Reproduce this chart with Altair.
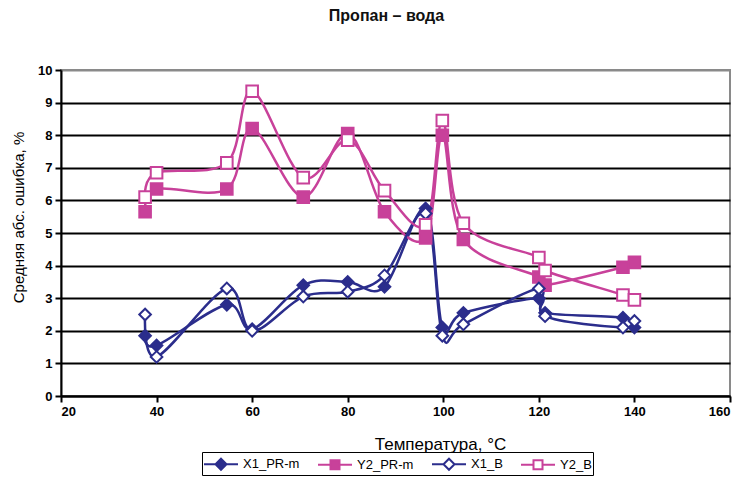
import altair as alt
import pandas as pd

temps = [37.6, 40, 54.7, 60, 70.7, 80, 87.7, 96.3, 99.8, 104.2, 120, 121.3, 137.6, 140]
x1_pr = [1.85, 1.55, 2.8, 2.05, 3.4, 3.5, 3.35, 5.75, 2.1, 2.55, 3.0, 2.55, 2.4, 2.1]
y2_pr = [5.65, 6.35, 6.35, 8.2, 6.1, 8.05, 5.65, 4.85, 8.0, 4.8, 3.65, 3.4, 3.95, 4.1]
x1_b = [2.5, 1.2, 3.3, 2.0, 3.05, 3.2, 3.7, 5.6, 1.85, 2.2, 3.3, 2.45, 2.1, 2.3]
y2_b = [6.1, 6.85, 7.15, 9.35, 6.7, 7.85, 6.3, 5.25, 8.45, 5.3, 4.25, 3.85, 3.1, 2.95]

series_names = ["X1_PR-m", "Y2_PR-m", "X1_B", "Y2_B"]
series_values = [x1_pr, y2_pr, x1_b, y2_b]
x_ticks = [20, 40, 60, 80, 100, 120, 140, 160]
y_ticks = [0, 1, 2, 3, 4, 5, 6, 7, 8, 9, 10]

NAVY = "#2B2D8C"
MAG = "#C8419A"
stroke_range = [NAVY, MAG, NAVY, MAG]
fill_range = [NAVY, MAG, "white", "white"]
shape_range = ["diamond", "square", "diamond", "square"]

DIA = "M0.7,-0.55L1.25,0L0.7,0.55L0.15,0Z"
SQ = "M0.25,-0.45H1.15V0.45H0.25Z"
legend_shapes = [
    "M-1,0H0.15M1.25,0H2.4" + DIA,
    "M-1,0H0.25M1.15,0H2.4" + SQ,
    "M-1,0H0.15M1.25,0H2.4" + DIA,
    "M-1,0H0.25M1.15,0H2.4" + SQ,
]

rows = []
for name, vals in zip(series_names, series_values):
    for t, v in zip(temps, vals):
        rows.append({"t": t, "v": v, "series": name})
df = pd.DataFrame(rows)

FONT = "Liberation Sans"


def x_enc():
    return alt.X("t:Q", scale=alt.Scale(domain=[20, 160], nice=False),
                 axis=alt.Axis(values=x_ticks, tickCount=20, format="d", title="Температура, °C",
                               grid=False, titleX=379, titleY=40, titleFontSize=17,
                               titleFontWeight="normal", labelOverlap=False))


def y_enc():
    return alt.Y("v:Q", scale=alt.Scale(domain=[0, 10], nice=False),
                 axis=alt.Axis(values=y_ticks, tickCount=20, format="d",
                               title="Средняя абс. ошибка, %",
                               grid=True, titleFontSize=15, titleFontWeight="normal",
                               titleX=-43, titleY=147, titleAlign="center", titleBaseline="middle",
                               labelOverlap=False,
                               gridColor={"condition": {"test": "datum.value == 10", "value": "#8a8a8a"},
                                          "value": "black"}))


dom = series_names

lines = alt.Chart(df).mark_line(interpolate="cardinal", strokeWidth=2.5).encode(
    x=x_enc(), y=y_enc(),
    stroke=alt.Stroke("series:N", scale=alt.Scale(domain=dom, range=stroke_range), legend=None),
    detail="series:N",
)

points = alt.Chart(df).mark_point(opacity=1, size=135, strokeWidth=2).encode(
    x=x_enc(), y=y_enc(),
    stroke=alt.Stroke("series:N", scale=alt.Scale(domain=dom, range=stroke_range), legend=None),
    fill=alt.Fill("series:N", scale=alt.Scale(domain=dom, range=fill_range), legend=None),
    shape=alt.Shape("series:N", scale=alt.Scale(domain=dom, range=shape_range), legend=None),
)

leg = alt.Legend(title=None, orient="none", legendX=141, legendY=382, direction="horizontal",
                 symbolSize=400, symbolStrokeWidth=2, labelFontSize=13, labelFont=FONT,
                 labelColor="black", strokeColor="black", padding=1, columnPadding=14,
                 labelOffset=18, symbolOpacity=1)

legend_layer = alt.Chart(df).transform_filter("false").mark_point(opacity=1).encode(
    x=x_enc(), y=y_enc(),
    stroke=alt.Stroke("series:N", scale=alt.Scale(domain=dom, range=stroke_range), legend=leg),
    fill=alt.Fill("series:N", scale=alt.Scale(domain=dom, range=fill_range), legend=leg),
    shape=alt.Shape("series:N", scale=alt.Scale(domain=dom, range=legend_shapes), legend=leg),
)

chart = alt.layer(lines, points, legend_layer).resolve_scale(
    stroke="independent", fill="independent", shape="independent"
).properties(
    width=669, height=326,
    title=alt.TitleParams("Пропан – вода", fontSize=16, font=FONT, fontWeight="bold",
                          offset=40, color="#111111", dx=-9),
    autosize=alt.AutoSizeParams(type="none"),
    padding={"left": 61, "top": 70, "right": 14, "bottom": 97},
).configure_view(
    stroke="#8a8a8a", strokeWidth=2
).configure_axis(
    labelFont=FONT, titleFont=FONT, labelFontSize=13, labelFontWeight="bold",
    labelColor="black", titleColor="black", domainColor="black", domainWidth=2,
    tickColor="black", tickWidth=2, tickSize=6, gridWidth=2, labelPadding=3,
)

chart.save("out.html", embed_options={"renderer": "svg", "actions": False})
